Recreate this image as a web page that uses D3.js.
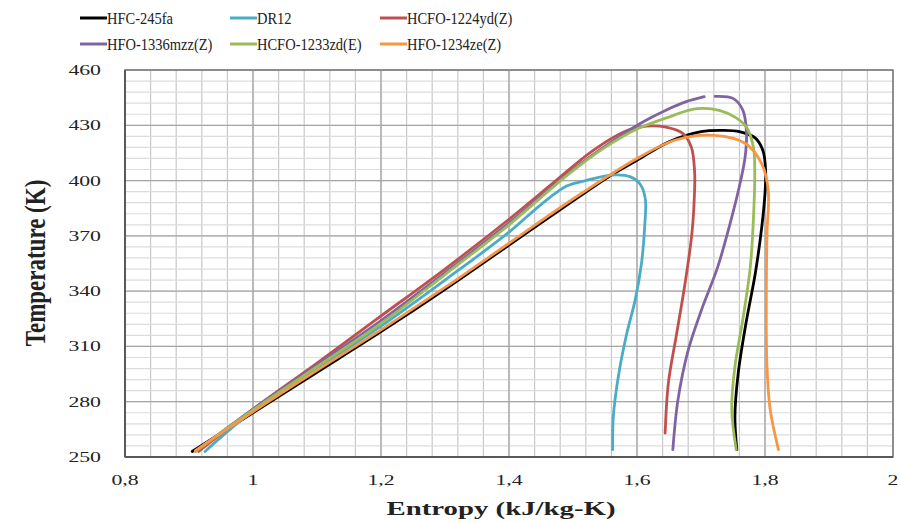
<!DOCTYPE html>
<meta charset="utf-8">
<html>
<head>
	<script src="https://cdn.jsdelivr.net/npm/d3@7"></script>
	<style>
		body { margin: 0; background: #fff; }
		text { font-family: "Liberation Serif", "Times New Roman", serif; fill: #222; }
	</style>
</head>
<body>
	<svg id="chart" width="900" height="522"></svg>
	<script>
	var seriesNames = ["HFC-245fa", "DR12", "HCFO-1224yd(Z)", "HFO-1336mzz(Z)", "HCFO-1233zd(E)", "HFO-1234ze(Z)"];
	var seriesColors = ["#000000", "#4bacc6", "#c0504d", "#8064a2", "#9bbb59", "#f79646"];

	var xTicks = [0.8, 1, 1.2, 1.4, 1.6, 1.8, 2];
	var yTicks = [250, 280, 310, 340, 370, 400, 430, 460];

	// entropy (kJ/kg-K) and temperature (K) along each saturation dome
	var hfc245faS = [0.905, 1.0, 1.1, 1.2, 1.3, 1.4, 1.5, 1.56, 1.6, 1.65, 1.7, 1.735, 1.76, 1.785, 1.797, 1.801, 1.8, 1.795, 1.785, 1.77, 1.758, 1.753, 1.756];
	var hfc245faT = [253, 274, 296, 318, 341, 365, 389, 403, 411, 421, 426.5, 427.2, 426.5, 423, 416, 405, 393, 375, 350, 322, 295, 272, 254];

	var dr12S = [0.925, 1.0, 1.1, 1.2, 1.3, 1.4, 1.45, 1.49, 1.52, 1.56, 1.59, 1.605, 1.613, 1.612, 1.607, 1.597, 1.584, 1.571, 1.563, 1.562];
	var dr12T = [253, 275, 298, 321, 346, 372, 387, 397, 400, 403, 402, 398, 390, 375, 355, 335, 317, 294, 272, 254];

	var hcfo1224S = [0.915, 1.0, 1.1, 1.19, 1.3, 1.4, 1.47, 1.53, 1.58, 1.615, 1.645, 1.672, 1.685, 1.69, 1.69, 1.686, 1.675, 1.662, 1.649, 1.644];
	var hcfo1224T = [253, 276, 301, 324, 352, 379, 399, 416, 426.5, 429.5, 429, 425.5, 418, 405, 395, 372, 344, 317, 290, 263];

	var hfo1336S = [0.91, 1.0, 1.1, 1.2, 1.3, 1.4, 1.5, 1.56, 1.605, 1.646, 1.677, 1.705, null, 1.722, 1.75, 1.765, 1.771, 1.769, 1.762, 1.748, 1.726, 1.701, 1.68, 1.664, 1.656];
	var hfo1336T = [253, 276, 300, 324, 350, 377, 406, 421, 431, 438.3, 442.8, 445.5, null, 445.7, 444.6, 438.5, 427, 413, 400, 380, 353, 330, 308, 281, 254];

	var hcfo1233S = [0.91, 1.0, 1.1, 1.206, 1.3, 1.4, 1.495, 1.55, 1.6, 1.646, 1.693, 1.73, 1.755, 1.771, 1.782, 1.784, 1.782, 1.777, 1.766, 1.753, 1.748, 1.755];
	var hcfo1233T = [253, 275.5, 299, 324, 349, 376, 404, 418, 428, 434, 439, 438, 434, 429, 418, 405, 380, 353, 326, 299, 276, 254];

	var hfo1234S = [0.91, 1.0, 1.1, 1.2, 1.3, 1.4, 1.5, 1.6, 1.66, 1.72, 1.77, 1.795, 1.805, 1.803, 1.802, 1.803, 1.808, 1.821];
	var hfo1234T = [253.5, 274.5, 297, 319, 342, 366, 390, 412, 422, 424.5, 420, 409, 395, 370, 330, 300, 276, 254];

	var allS = [hfc245faS, dr12S, hcfo1224S, hfo1336S, hcfo1233S, hfo1234S];
	var allT = [hfc245faT, dr12T, hcfo1224T, hfo1336T, hcfo1233T, hfo1234T];

	var svg = d3.select("#chart");

	var x = d3.scaleLinear()
		.domain([0.8, 2.0])
		.range([125, 893]);

	var y = d3.scaleLinear()
		.domain([250, 460])
		.range([457, 70]);

	var grid = svg.append("g");

	// minor gridlines (every 0.04 and every 6 K)
	grid.selectAll(".vminor")
		.data(d3.range(0, 31).map(function(i) { return 0.8 + i * 0.04; }))
		.enter().append("line")
			.attr("x1", function(d) { return x(d); })
			.attr("x2", function(d) { return x(d); })
			.attr("y1", y(250)).attr("y2", y(460))
			.attr("stroke", "#c8c8c8").attr("stroke-width", 1.2);

	grid.selectAll(".hminor")
		.data(d3.range(0, 36).map(function(i) { return 250 + i * 6; }))
		.enter().append("line")
			.attr("y1", function(d) { return y(d); })
			.attr("y2", function(d) { return y(d); })
			.attr("x1", x(0.8)).attr("x2", x(2.0))
			.attr("stroke", "#dcdcdc").attr("stroke-width", 1.2);

	// major gridlines
	grid.selectAll(".vmajor")
		.data(xTicks)
		.enter().append("line")
			.attr("x1", function(d) { return x(d); })
			.attr("x2", function(d) { return x(d); })
			.attr("y1", y(250)).attr("y2", y(460))
			.attr("stroke", "#a6a6a6").attr("stroke-width", 1.3);

	grid.selectAll(".hmajor")
		.data(yTicks)
		.enter().append("line")
			.attr("y1", function(d) { return y(d); })
			.attr("y2", function(d) { return y(d); })
			.attr("x1", x(0.8)).attr("x2", x(2.0))
			.attr("stroke", "#a6a6a6").attr("stroke-width", 1.3);

	// frame
	svg.append("rect")
		.attr("x", x(0.8)).attr("y", y(460))
		.attr("width", x(2.0) - x(0.8)).attr("height", y(250) - y(460))
		.attr("fill", "none").attr("stroke", "#7f7f7f").attr("stroke-width", 1.5);

	svg.append("line")
		.attr("x1", x(0.8)).attr("x2", x(2.0)).attr("y1", y(250)).attr("y2", y(250))
		.attr("stroke", "#595959").attr("stroke-width", 2);
	svg.append("line")
		.attr("x1", x(0.8)).attr("x2", x(0.8)).attr("y1", y(250)).attr("y2", y(460))
		.attr("stroke", "#595959").attr("stroke-width", 2);

	// tick labels
	var fmt = function(d) { return String(d).replace(".", ","); };

	svg.append("g").selectAll("text")
		.data(xTicks)
		.enter().append("text")
			.attr("transform", function(d) { return "translate(" + x(d) + ",485) scale(1.45,1)"; })
			.attr("text-anchor", "middle")
			.style("font-size", "15px")
			.text(fmt);

	svg.append("g").selectAll("text")
		.data(yTicks)
		.enter().append("text")
			.attr("transform", function(d) { return "translate(101," + (y(d) + 5) + ") scale(1.45,1)"; })
			.attr("text-anchor", "end")
			.style("font-size", "15px")
			.text(fmt);

	// axis titles
	svg.append("text")
		.attr("transform", "translate(501,515) scale(1.6,1)")
		.attr("text-anchor", "middle")
		.style("font-size", "18px")
		.style("font-weight", "bold")
		.text("Entropy (kJ/kg-K)");

	svg.append("text")
		.attr("transform", "translate(45,263) rotate(-90) scale(1,1.25)")
		.attr("text-anchor", "middle")
		.style("font-size", "23px")
		.style("font-weight", "bold")
		.text("Temperature (K)");

	// curves
	var line = d3.line()
		.defined(function(d) { return d.s !== null; })
		.x(function(d) { return x(d.s); })
		.y(function(d) { return y(d.t); })
		.curve(d3.curveCatmullRom.alpha(0.5));

	var curves = seriesNames.map(function(name, i) {
		return {
			name: name,
			color: seriesColors[i],
			points: allS[i].map(function(s, j) { return {s: s, t: allT[i][j]}; })
		};
	});

	svg.append("g").selectAll("path")
		.data(curves)
		.enter().append("path")
			.attr("d", function(d) { return line(d.points); })
			.attr("fill", "none")
			.attr("stroke", function(d) { return d.color; })
			.attr("stroke-width", 2.8)
			.attr("stroke-linejoin", "round")
			.attr("stroke-linecap", "round");

	// legend
	var legendX = [80, 230, 380];
	var legendY = [18, 44];

	var legend = svg.append("g").selectAll("g")
		.data(curves)
		.enter().append("g")
			.attr("transform", function(d, i) { return "translate(" + legendX[i % 3] + "," + legendY[Math.floor(i / 3)] + ")"; });

	legend.append("line")
		.attr("x1", 0).attr("x2", 27)
		.attr("stroke", function(d) { return d.color; })
		.attr("stroke-width", 3);

	legend.append("text")
		.attr("transform", "translate(27,5.5) scale(1,1.15)")
		.style("font-size", "14.5px")
		.text(function(d) { return d.name; });
	</script>
</body>
</html>
